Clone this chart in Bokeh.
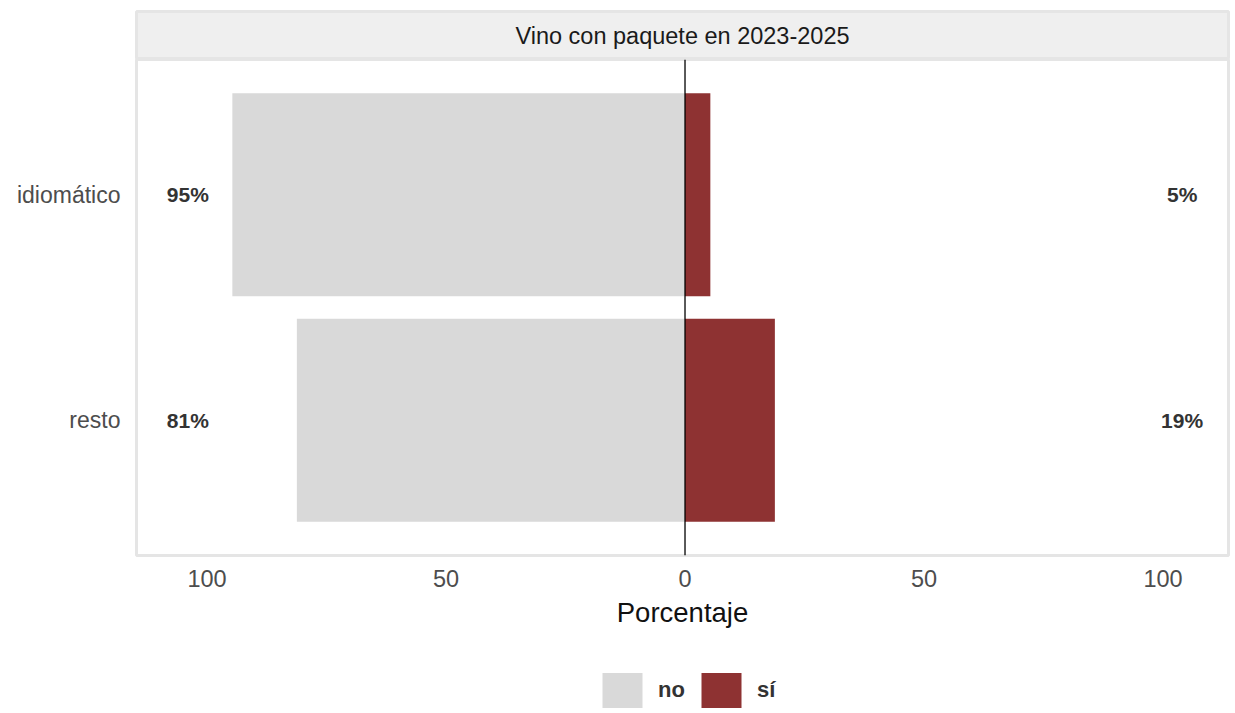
from bokeh.plotting import figure
from bokeh.models import (ColumnDataSource, FactorRange, Range1d, FixedTicker, Span,
                          Legend, LegendItem, Label)
from bokeh.layouts import column
from bokeh.core.properties import value
from bokeh.embed import file_html
from bokeh.resources import INLINE

# ---- data ----
strip_title = "Vino con paquete en 2023-2025"
categories = ["idiomático", "resto"]
no_pct = [94.7, 81.2]
si_pct = [5.3, 18.8]
series_names = ["no", "sí"]
series_colors = ["#D9D9D9", "#8E3232"]
tick_values = [-100, -50, 0, 50, 100]
tick_labels = ["100", "50", "0", "50", "100"]
x_label = "Porcentaje"

FONT = "Liberation Sans"

src = ColumnDataSource(dict(
    cat=categories,
    no_left=[-v for v in no_pct],
    zero=[0] * len(categories),
    si=si_pct,
    no_lab=[f"{round(v)}%" for v in no_pct],
    si_lab=[f"{round(v)}%" for v in si_pct],
    no_x=[-104] * len(categories),
    si_x=[104] * len(categories),
))

FW = 1092
LB = 136
RB = 4

# ---- strip (facet header) ----
strip = figure(output_backend="svg", toolbar_location=None,
               frame_width=FW, frame_height=48,
               min_border_left=LB, min_border_right=RB, min_border_top=11, min_border_bottom=0,
               x_range=Range1d(0, 1), y_range=Range1d(0, 1),
               x_axis_type=None, y_axis_type=None)
strip.grid.visible = False
strip.background_fill_color = "#EFEFEF"
strip.border_fill_color = "white"
strip.outline_line_color = "#E5E5E5"
strip.outline_line_width = 3
strip.add_layout(Label(x=0.5, y=0.5, text=strip_title, text_align="center",
                       text_baseline="middle", text_font=FONT,
                       text_font_size="23.5px", text_color="#1A1A1A"))

# ---- main panel ----
p = figure(output_backend="svg", toolbar_location=None,
           frame_width=FW, frame_height=496,
           min_border_left=LB, min_border_right=RB, min_border_top=0, min_border_bottom=90,
           y_range=FactorRange(factors=list(reversed(categories)), range_padding=0.1,
                               range_padding_units="absolute"),
           x_range=Range1d(-114.75, 113.7))
p.grid.visible = False
p.background_fill_color = "white"
p.border_fill_color = "white"
p.outline_line_color = "#E5E5E5"
p.outline_line_width = 3

p.hbar(y="cat", left="no_left", right="zero", height=0.9, source=src,
       fill_color=series_colors[0], line_color=None)
p.hbar(y="cat", left="zero", right="si", height=0.9, source=src,
       fill_color=series_colors[1], line_color=None)

p.add_layout(Span(location=0, dimension="height", line_color="black", line_width=1.3))

p.text(x="no_x", y="cat", text="no_lab", source=src, text_align="center",
       text_baseline="middle", text_font=value(FONT), text_font_size="21px",
       text_font_style="bold", text_color="#333333")
p.text(x="si_x", y="cat", text="si_lab", source=src, text_align="center",
       text_baseline="middle", text_font=value(FONT), text_font_size="21px",
       text_font_style="bold", text_color="#333333")

# axes
p.xaxis.ticker = FixedTicker(ticks=tick_values)
p.xaxis.major_label_overrides = {t: l for t, l in zip(tick_values, tick_labels)}
for ax in (p.xaxis, p.yaxis):
    ax.axis_line_color = None
    ax.major_tick_line_color = None
    ax.minor_tick_line_color = None
    ax.major_tick_out = 0
    ax.major_tick_in = 0
    ax.major_label_text_font = FONT
    ax.major_label_text_color = "#4D4D4D"
p.xaxis.major_label_text_font_size = "23.5px"
p.xaxis.major_label_standoff = 14
p.yaxis.major_label_text_font_size = "23px"
p.yaxis.major_label_standoff = 16
p.xaxis.axis_label = x_label
p.xaxis.axis_label_text_font = FONT
p.xaxis.axis_label_text_font_size = "27.5px"
p.xaxis.axis_label_text_font_style = "normal"
p.xaxis.axis_label_text_color = "#111111"
p.xaxis.axis_label_standoff = 7

# ---- legend strip below the panel ----
leg = figure(output_backend="svg", toolbar_location=None,
             frame_width=FW, frame_height=67,
             min_border_left=LB, min_border_right=RB, min_border_top=0, min_border_bottom=0,
             x_range=Range1d(0, 1), y_range=FactorRange(factors=categories),
             x_axis_type=None, y_axis_type=None)
leg.grid.visible = False
leg.outline_line_color = None
leg.background_fill_color = "white"
leg.border_fill_color = "white"
k_no = leg.hbar(y="cat", left="no_left", right="zero", height=0.9, source=src,
                fill_color=series_colors[0], line_color=None, visible=False)
k_si = leg.hbar(y="cat", left="zero", right="si", height=0.9, source=src,
                fill_color=series_colors[1], line_color=None, visible=False)
legend = Legend(items=[LegendItem(label=series_names[0], renderers=[k_no]),
                       LegendItem(label=series_names[1], renderers=[k_si])],
                orientation="horizontal", location=(461, 0), click_policy="none",
                glyph_width=50, glyph_height=44, label_standoff=11, spacing=11,
                padding=0, margin=0, border_line_color=None, background_fill_alpha=0,
                label_text_font=FONT, label_text_font_size="22px",
                label_text_font_style="bold", label_text_color="#333333")
leg.add_layout(legend, "center")

layout = column(strip, p, leg, spacing=0)
open("out.html", "w").write(file_html(layout, INLINE))
